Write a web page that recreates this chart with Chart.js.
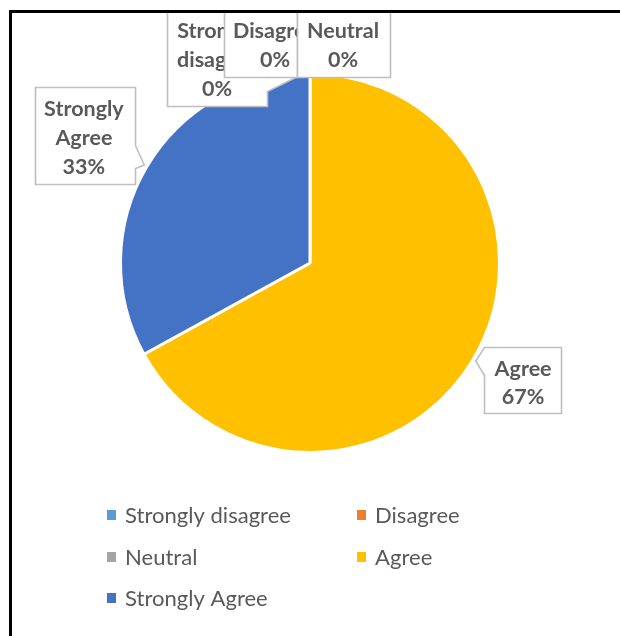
<!DOCTYPE html>
<html><head><meta charset="utf-8">
<script src="https://cdn.jsdelivr.net/npm/chart.js@4"></script>
<style>
html,body{margin:0;padding:0;background:#fff;}
#wrap{position:relative;width:620px;height:636px;overflow:hidden;}
#frame{position:absolute;left:9px;top:10px;width:700px;height:700px;border:3px solid #000;box-sizing:border-box;pointer-events:none;}
</style></head>
<body><div id="wrap"><canvas id="c" width="620" height="636"></canvas><div id="frame"></div></div>
<script>
const categories = ['Strongly disagree', 'Disagree', 'Neutral', 'Agree', 'Strongly Agree'];
const percentValues = [0, 0, 0, 67, 33];
const valueLabels = ['0%', '0%', '0%', '67%', '33%'];
const calloutNames = [['Strongly', 'disagree'], ['Disagree'], ['Neutral'], ['Agree'], ['Strongly', 'Agree']];
const sliceColors = ['#5B9BD5', '#ED7D31', '#A5A5A5', '#FFC000', '#4472C4'];

const TEXT = '#595959';
const FAMILY = 'Lato, "Open Sans", sans-serif';

// callout boxes, offsets relative to the arc's outer point at its mid angle
const calloutLayout = [
  {l: -143, t: -64, r: -43, b: 32, cx: -93, base: [-36, -7, 22], notch: {side: 'right', a: 3, b: 17}},
  {l: -86, t: -64, r: -13, b: 3, cx: -35, base: [-36, -7], notch: null},
  {l: -13, t: -64, r: 80, b: 3, cx: 33, base: [-36, -7], notch: null},
  {l: 11, t: -12, r: 88, b: 54, cx: 50, base: [17, 45], notch: {side: 'left', a: -12, b: 16}},
  {l: -112, t: -80, r: -12, b: 17, cx: -63, base: [-51, -22, 7], notch: {side: 'right', a: -22, b: 1}}
];

// font metrics: size from cap height, horizontal scale from a reference word width
function fitFont(weight, capTarget, word, widthTarget) {
  const c = document.createElement('canvas').getContext('2d');
  c.font = weight + ' 100px ' + FAMILY;
  const cap = c.measureText('H').actualBoundingBoxAscent || 72;
  const size = 100 * capTarget / cap;
  c.font = weight + ' ' + size + 'px ' + FAMILY;
  const sx = widthTarget / c.measureText(word).width;
  return {font: weight + ' ' + size + 'px ' + FAMILY, sx: sx};
}

function drawText(ctx, f, s, x, y, align) {
  ctx.save();
  ctx.font = f.font;
  ctx.textAlign = align;
  ctx.textBaseline = 'alphabetic';
  ctx.translate(x, y);
  ctx.scale(f.sx, 1);
  ctx.fillText(s, 0, 0);
  ctx.restore();
}

function make() {
  const labelFont = fitFont('bold', 15, 'Neutral', 72);
  const legendFont = fitFont('normal', 15, 'Strongly disagree', 166);

  const calloutPlugin = {
    id: 'callouts',
    afterDatasetsDraw(chart) {
      const ctx = chart.ctx;
      const meta = chart.getDatasetMeta(0);
      ctx.save();
      ctx.beginPath();
      ctx.rect(12, 12, 620, 636);
      ctx.clip();
      meta.data.forEach((arc, i) => {
        const p = arc.getProps(['x', 'y', 'startAngle', 'endAngle', 'outerRadius'], true);
        const mid = (p.startAngle + p.endAngle) / 2;
        const ex = p.x + Math.cos(mid) * p.outerRadius;
        const ey = p.y + Math.sin(mid) * p.outerRadius;
        const tx = p.x + Math.cos(mid) * (p.outerRadius + 3);
        const ty = p.y + Math.sin(mid) * (p.outerRadius + 3);
        const L = calloutLayout[i];
        const l = Math.round(ex + L.l) + 0.5, r = Math.round(ex + L.r) + 0.5;
        const t = Math.round(ey + L.t) + 0.5, b = Math.round(ey + L.b) + 0.5;
        ctx.beginPath();
        ctx.moveTo(l, t);
        ctx.lineTo(r, t);
        if (L.notch && L.notch.side === 'right') {
          ctx.lineTo(r, Math.round(ey + L.notch.a) + 0.5);
          ctx.lineTo(tx, ty);
          ctx.lineTo(r, Math.round(ey + L.notch.b) + 0.5);
        }
        ctx.lineTo(r, b);
        ctx.lineTo(l, b);
        if (L.notch && L.notch.side === 'left') {
          ctx.lineTo(l, Math.round(ey + L.notch.b) + 0.5);
          ctx.lineTo(tx, ty);
          ctx.lineTo(l, Math.round(ey + L.notch.a) + 0.5);
        }
        ctx.closePath();
        ctx.fillStyle = '#fff';
        ctx.fill();
        ctx.lineWidth = 1.6;
        ctx.strokeStyle = '#BFBFBF';
        ctx.stroke();
        const lines = calloutNames[i].concat([valueLabels[i]]);
        ctx.fillStyle = TEXT;
        lines.forEach((s, k) => drawText(ctx, labelFont, s, ex + L.cx, ey + L.base[k], 'center'));
      });
      ctx.restore();
    }
  };

  const legendPlugin = {
    id: 'gridLegend',
    afterDraw(chart) {
      const ctx = chart.ctx;
      const colX = [107, 357];
      const rowBase = [523, 565, 606];
      ctx.save();
      chart.data.labels.forEach((lab, i) => {
        const x = colX[i % 2], y = rowBase[Math.floor(i / 2)];
        ctx.fillStyle = chart.data.datasets[0].backgroundColor[i];
        ctx.fillRect(x, y - 13, 9, 10);
        ctx.fillStyle = TEXT;
        drawText(ctx, legendFont, lab, x + 18, y, 'left');
      });
      ctx.restore();
    }
  };

  new Chart(document.getElementById('c'), {
    type: 'pie',
    data: {
      labels: categories,
      datasets: [{
        data: percentValues,
        backgroundColor: sliceColors,
        borderColor: '#ffffff',
        borderWidth: 3
      }]
    },
    options: {
      responsive: false,
      animation: false,
      events: [],
      layout: {padding: {left: 119, right: 119, top: 72, bottom: 182}},
      plugins: {legend: {display: false}, tooltip: {enabled: false}}
    },
    plugins: [calloutPlugin, legendPlugin]
  });
}

Promise.all([
  document.fonts.load('bold 24px Lato'),
  document.fonts.load('24px Lato')
]).then(make, make);
</script>
</body></html>
